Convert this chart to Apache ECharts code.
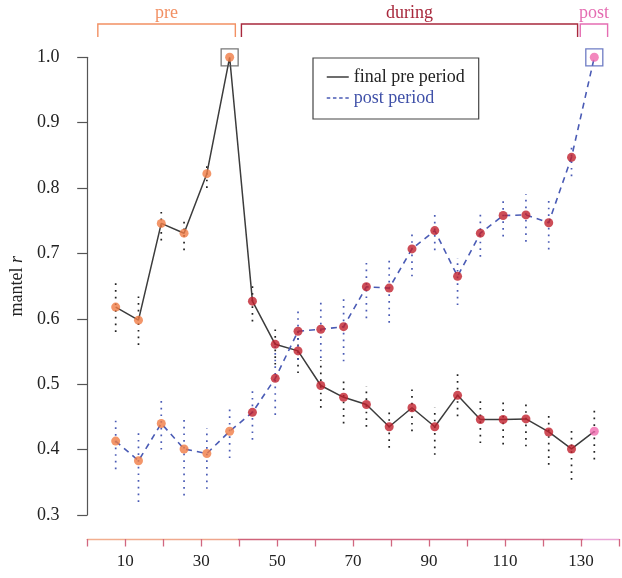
<!DOCTYPE html>
<html>
<head>
<meta charset="utf-8">
<script src="https://cdn.jsdelivr.net/npm/echarts@6/dist/echarts.min.js"></script>
<style>
html,body{margin:0;padding:0;background:#fff;}
#chart{width:622px;height:578px;}
</style>
</head>
<body>
<div id="chart"></div>
<script>
// ---- data ----
var xValues = [7.5,13.5,19.5,25.5,31.5,37.5,43.5,49.5,55.5,61.5,67.5,73.5,79.5,85.5,91.5,97.5,103.5,109.5,115.5,121.5,127.5,133.5];
var periods = ['pre','pre','pre','pre','pre','pre',
  'during','during','during','during','during','during','during','during','during','during','during','during','during','during','during',
  'post'];
var finalPre = [0.618,0.598,0.746,0.731,0.822,1.0,
  0.627,0.561,0.551,0.498,0.480,0.469,0.435,0.464,0.435,0.483,0.446,0.446,0.447,0.427,0.401,
  0.428];
var postPeriod = [0.413,0.383,0.440,0.401,0.394,0.428,
  0.457,0.509,0.581,0.584,0.588,0.649,0.647,0.707,0.735,0.665,0.731,0.758,0.759,0.747,0.847,
  1.0];
var finalPreLow  = [0.580,0.560,0.720,0.705,0.800,null,0.596,0.530,0.517,0.464,0.440,0.435,0.403,0.428,0.392,0.451,0.410,0.408,0.405,0.377,0.354,0.385];
var finalPreHigh = [0.660,0.640,0.770,0.756,0.840,null,0.655,0.588,0.585,0.537,0.512,0.497,0.464,0.499,0.464,0.519,0.481,0.476,0.474,0.457,0.435,0.464];
var postLow  = [0.370,0.320,0.400,0.330,0.340,0.387,0.415,0.453,0.537,0.540,0.535,0.601,0.594,0.665,0.705,0.621,0.695,0.726,0.718,0.706,0.818,null];
var postHigh = [0.450,0.430,0.480,0.450,0.433,0.466,0.494,0.560,0.619,0.628,0.632,0.690,0.690,0.735,0.762,0.693,0.767,0.787,0.791,0.787,0.869,null];
var xTickLabels = [10,30,50,70,90,110,130];
var bracketLabels = ['pre','during','post'];
var bracketStart = [2.8,40.6,129.8];
var bracketEnd   = [39.0,129.1,137.0];
var seriesNames = ['final pre period','post period'];

// ---- styles ----
var FONT = '"Liberation Serif","Times New Roman",serif';
var pointColor = {pre:'#f07c45', during:'#c0212d', post:'#f06aae'};
var bracketColor = {pre:'#f29063', during:'#a8283c', post:'#e56db2'};
var blackLine = '#3c3c3c';
var blueLine = '#4a5bb5';

function pts(vals){
  return xValues.map(function(x,i){
    return {value:[x, vals[i]], itemStyle:{color: pointColor[periods[i]]}};
  });
}
function bars(lo,hi){
  var out=[];
  xValues.forEach(function(x,i){ if(lo[i]!=null) out.push([x,lo[i],hi[i]]); });
  return out;
}
function maxIdx(vals){
  var m=0; vals.forEach(function(v,i){ if(v>vals[m]) m=i; }); return m;
}
function errRender(color){
  return function(params, api){
    var p1 = api.coord([api.value(0), api.value(1)]);
    var p2 = api.coord([api.value(0), api.value(2)]);
    return {type:'line', shape:{x1:p1[0],y1:p1[1],x2:p2[0],y2:p2[1]},
      style:{stroke:color, lineWidth:1.7, lineDash:[1.7,5]}};
  };
}
var axisGrad = {type:'linear',x:0,y:0,x2:1,y2:0,colorStops:[
  {offset:0,color:'#f2b08f'},{offset:0.2857,color:'#eea48c'},
  {offset:0.2858,color:'#cf6278'},{offset:0.9285,color:'#d6708f'},
  {offset:0.9286,color:'#e9a6d6'},{offset:1,color:'#e9a6d6'}]};

var chart = echarts.init(document.getElementById('chart'), null, {renderer:'canvas'});
var bIdx = maxIdx(finalPre), pIdx = maxIdx(postPeriod);

var option = {
  animation:false,
  backgroundColor:'#fff',
  grid:{left:81.5, right:0.5, top:57.3, bottom:63},
  legend:{
    orient:'vertical', left:313, top:58,
    padding:[10,14,12,13],
    borderColor:'#444', borderWidth:1.2,
    itemWidth:22, itemHeight:10, itemGap:3,
    itemStyle:{opacity:0},
    textStyle:{fontFamily:FONT, fontSize:18},
    data:[
      {name:seriesNames[0], textStyle:{color:'#222'}, lineStyle:{width:1.5}},
      {name:seriesNames[1], textStyle:{color:'#3f50a8'}, lineStyle:{width:1.5, type:[3.5,2.7]}}
    ]
  },
  xAxis:{
    type:'value', min:0, max:140, interval:10,
    offset:24,
    splitLine:{show:false},
    axisLine:{show:true, lineStyle:{width:1.3, color:axisGrad}},
    axisTick:{show:true, length:7.5, lineStyle:{width:1.3, color:axisGrad}},
    axisLabel:{margin:14, color:'#222', fontFamily:FONT, fontSize:17,
      formatter:function(v){ return xTickLabels.indexOf(v)>=0 ? String(v) : ''; }}
  },
  yAxis:{
    type:'value', min:0.3, max:1.0, interval:0.1,
    offset:13.8,
    splitLine:{show:false},
    axisLine:{show:true, lineStyle:{color:'#555', width:1.2}},
    axisTick:{show:true, length:10, lineStyle:{color:'#555', width:1.2}},
    axisLabel:{margin:14, color:'#222', fontFamily:FONT, fontSize:18,
      formatter:function(v){ return v.toFixed(1); }},
    name:'mantel {i|r}', nameLocation:'middle', nameGap:42,
    nameTextStyle:{fontFamily:FONT, fontSize:18, color:'#222', rich:{i:{fontStyle:'italic', fontFamily:FONT, fontSize:18, color:'#222'}}}
  },
  series:[
    {type:'custom', name:'errA', renderItem:errRender('#222'), data:bars(finalPreLow, finalPreHigh), z:1, silent:true,
      encode:{x:0, y:[1,2]}},
    {type:'custom', name:'errB', renderItem:errRender('#4a5bb5'), data:bars(postLow, postHigh), z:1, silent:true,
      encode:{x:0, y:[1,2]}},
    {type:'line', name:seriesNames[0], data:xValues.map(function(x,i){return [x, finalPre[i]];}),
      symbol:'none', showSymbol:false, z:2,
      lineStyle:{color:blackLine, width:1.5}, itemStyle:{color:blackLine}},
    {type:'line', name:seriesNames[1], data:xValues.map(function(x,i){return [x, postPeriod[i]];}),
      symbol:'none', showSymbol:false, z:2,
      lineStyle:{color:blueLine, width:1.6, type:[6,5]}, itemStyle:{color:blueLine}},
    {type:'scatter', name:'ptsA', data:pts(finalPre), symbolSize:9, z:3, silent:true},
    {type:'scatter', name:'ptsB', data:pts(postPeriod), symbolSize:9, z:3, silent:true},
    {type:'scatter', name:'boxA', data:[[xValues[bIdx], finalPre[bIdx]]], symbol:'rect', symbolSize:17, z:4,
      itemStyle:{color:'rgba(0,0,0,0)', borderColor:'#555', borderWidth:1.3}, silent:true},
    {type:'scatter', name:'boxB', data:[[xValues[pIdx], postPeriod[pIdx]]], symbol:'rect', symbolSize:17, z:4,
      itemStyle:{color:'rgba(0,0,0,0)', borderColor:'#4a5bb5', borderWidth:1.3}, silent:true},
    {type:'custom', name:'brackets', clip:false, silent:true, z:5,
      data:bracketLabels.map(function(l,i){ return [bracketStart[i], bracketEnd[i], i]; }),
      encode:{x:[0,1]},
      renderItem:function(params, api){
        var i = api.value(2);
        var lab = bracketLabels[i];
        var a = api.coord([api.value(0), 1.0]);
        var b = api.coord([api.value(1), 1.0]);
        var top = a[1]-33.3, bot = a[1]-20.3;
        var col = bracketColor[lab];
        return {type:'group', children:[
          {type:'polyline', shape:{points:[[a[0],bot],[a[0],top],[b[0],top],[b[0],bot]]},
            style:{stroke:col, lineWidth:1.4, fill:null}},
          {type:'text', x:(a[0]+b[0])/2, y:top-11,
            style:{text:lab, fill:col, font:'18px '+FONT, textAlign:'center', textVerticalAlign:'middle'}}
        ]};
      }}
  ]
};
chart.setOption(option);
</script>
</body>
</html>
